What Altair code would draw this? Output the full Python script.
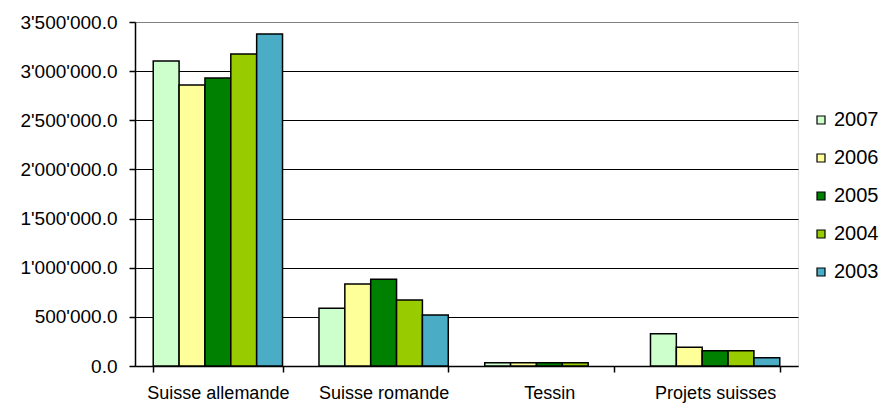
import altair as alt
import pandas as pd

categories = ["Suisse allemande", "Suisse romande", "Tessin", "Projets suisses"]
years = ["2007", "2006", "2005", "2004", "2003"]
colors = ["#CCFFCC", "#FFFF99", "#008000", "#99CC00", "#4BACC6"]

v2007 = [3103000, 587000, 33000, 329000]
v2006 = [2859000, 834000, 33000, 190000]
v2005 = [2930000, 882000, 33000, 156000]
v2004 = [3174000, 671000, 33000, 156000]
v2003 = [3378000, 519000, None, 85000]

series = {"2007": v2007, "2006": v2006, "2005": v2005, "2004": v2004, "2003": v2003}
rows = []
for y in years:
    for c, v in zip(categories, series[y]):
        if v is not None:
            rows.append({"cat": c, "year": y, "value": v})
df = pd.DataFrame(rows)

FONT = "Liberation Sans"

chart = alt.Chart(df).mark_bar(stroke="black", strokeWidth=1.5).encode(
    x=alt.X("cat:N", sort=categories, title=None,
            scale=alt.Scale(paddingInner=0.22, paddingOuter=0.11),
            axis=alt.Axis(labelAngle=0, tickBand="extent", domainColor="black",
                          tickColor="black", tickSize=6, labelPadding=12,
                          labelFontSize=18, labelFont=FONT, labelColor="black",
                          grid=False, domainWidth=1.5, tickWidth=1.5)),
    xOffset=alt.XOffset("year:N", sort=years, scale=alt.Scale(paddingInner=0, paddingOuter=0)),
    y=alt.Y("value:Q", title=None,
            scale=alt.Scale(domain=[0, 3500000], nice=False),
            axis=alt.Axis(values=[0, 500000, 1000000, 1500000, 2000000, 2500000, 3000000, 3500000],
                          labelExpr="replace(format(datum.value, ',.1f'), regexp(',', 'g'), \"'\")",
                          labelFontSize=19, labelFont=FONT, labelColor="black",
                          tickSize=6, labelPadding=12, tickColor="black",
                          domainColor="black", domainWidth=1.5, tickWidth=1.5,
                          grid=True,
                          gridColor=alt.condition("datum.value == 3500000", alt.value("#808080"), alt.value("black")),
                          gridWidth=1.2)),
    color=alt.Color("year:N", sort=years,
                    scale=alt.Scale(domain=years, range=colors),
                    legend=alt.Legend(title=None, orient="none", legendX=676, legendY=88,
                                      symbolType="square", symbolSize=64,
                                      symbolStrokeColor="black", symbolStrokeWidth=1.2,
                                      labelFontSize=20, labelFont=FONT, labelColor="black",
                                      labelOffset=3, rowPadding=18, padding=0)),
).properties(
    width=663, height=344,
    autosize=alt.AutoSizeParams(type="none"),
    padding={"left": 135, "top": 22, "right": 84, "bottom": 39},
).configure_view(stroke="#808080", strokeWidth=1.5).configure(background="white")

chart.save("out.html", embed_options={"renderer": "svg", "actions": False})
